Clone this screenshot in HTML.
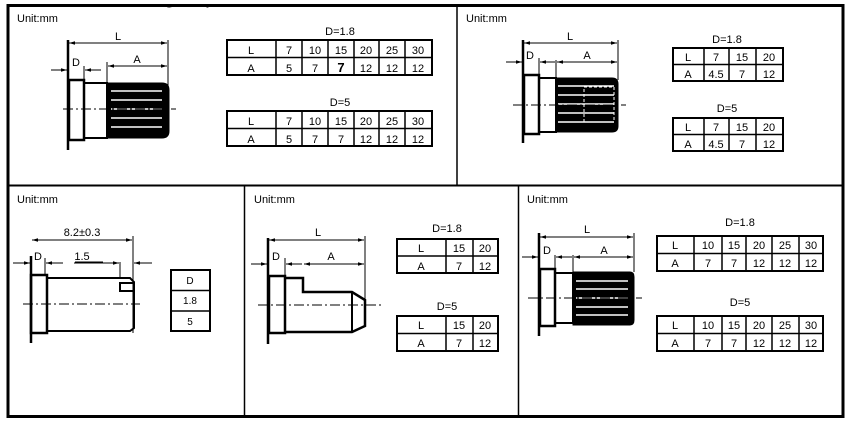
<!DOCTYPE html>
<html><head><meta charset="utf-8"><style>
html,body{margin:0;padding:0;background:#fff;}
svg{display:block;font-family:"Liberation Sans",sans-serif;}
text{fill:#000;}
</style></head><body>
<svg width="847" height="423" viewBox="0 0 847 423" xmlns="http://www.w3.org/2000/svg">
<defs>
<marker id="ar" viewBox="0 0 10 10" refX="10" refY="5" markerWidth="6" markerHeight="6" orient="auto-start-reverse"><path d="M0,2 L10,5 L0,8 z" fill="#000"/></marker>
</defs>
<text x="95" y="3" font-size="22">Drawings upon</text>
<rect x="0" y="0" width="847" height="5" fill="#fff"/>
<!-- frame -->
<rect x="8" y="5.5" width="835" height="411" fill="none" stroke="#000" stroke-width="3"/>
<line x1="8" y1="185.5" x2="843" y2="185.5" stroke="#000" stroke-width="2"/>
<line x1="457" y1="5" x2="457" y2="185" stroke="#000" stroke-width="1.5"/>
<line x1="244.5" y1="185" x2="244.5" y2="416" stroke="#000" stroke-width="1.5"/>
<line x1="518.5" y1="185" x2="518.5" y2="416" stroke="#000" stroke-width="1.5"/>
<g font-size="11">
<text x="17" y="22">Unit:mm</text>
<text x="466" y="22">Unit:mm</text>
<text x="17" y="203">Unit:mm</text>
<text x="254" y="203">Unit:mm</text>
<text x="527" y="203">Unit:mm</text>
</g>

<g stroke="#000" fill="none">
<!-- Panel 1 drawing -->
<line x1="68" y1="40" x2="68" y2="150" stroke-width="2.5"/>
<line x1="168" y1="40" x2="168" y2="90" stroke-width="1"/>
<line x1="84" y1="66" x2="84" y2="80" stroke-width="1"/>
<line x1="107" y1="62" x2="107" y2="83" stroke-width="1"/>
<line x1="69" y1="43" x2="167" y2="43" stroke-width="1" marker-start="url(#ar)" marker-end="url(#ar)"/>
<line x1="51" y1="70" x2="67" y2="70" stroke-width="1" marker-end="url(#ar)"/>
<line x1="101" y1="70" x2="85" y2="70" stroke-width="1" marker-end="url(#ar)"/>
<line x1="108" y1="66" x2="167" y2="66" stroke-width="1" marker-start="url(#ar)" marker-end="url(#ar)"/>
<rect x="69" y="80" width="15" height="60" stroke-width="2.5"/>
<rect x="84" y="83" width="23" height="55" stroke-width="2"/>
<path d="M107,83 H162 Q169,83 169,90 V131 Q169,138 162,138 H107 Z" fill="#000" stroke-width="1"/>
<g stroke="#fff" stroke-width="1.5"><line x1="111" y1="91" x2="162" y2="91"/><line x1="111" y1="100" x2="162" y2="100"/><line x1="111" y1="109" x2="162" y2="109"/><line x1="111" y1="118" x2="162" y2="118"/><line x1="111" y1="127" x2="162" y2="127"/></g>
<line x1="63" y1="109" x2="176" y2="109" stroke-width="1" stroke-dasharray="10,3,2,3"/>

<!-- Panel 2 drawing -->
<line x1="523" y1="40" x2="523" y2="143" stroke-width="2.5"/>
<line x1="618" y1="40" x2="618" y2="80" stroke-width="1"/>
<line x1="539" y1="58" x2="539" y2="78" stroke-width="1"/>
<line x1="556" y1="60" x2="556" y2="80" stroke-width="1"/>
<line x1="524" y1="43" x2="617" y2="43" stroke-width="1" marker-start="url(#ar)" marker-end="url(#ar)"/>
<line x1="506" y1="62" x2="522" y2="62" stroke-width="1" marker-end="url(#ar)"/>
<line x1="555" y1="62" x2="540" y2="62" stroke-width="1" marker-end="url(#ar)"/>
<line x1="557" y1="62" x2="617" y2="62" stroke-width="1" marker-start="url(#ar)" marker-end="url(#ar)"/>
<rect x="524" y="75" width="15" height="59" stroke-width="2.5"/>
<rect x="539" y="78" width="17" height="54" stroke-width="2"/>
<path d="M556,78 H612 Q618,78 618,84 V126 Q618,132 612,132 H556 Z" fill="#000" stroke-width="1"/>
<g stroke="#fff" stroke-width="1.5"><line x1="558" y1="86" x2="614" y2="86"/><line x1="558" y1="95" x2="614" y2="95"/><line x1="558" y1="104" x2="614" y2="104"/><line x1="558" y1="113" x2="614" y2="113"/><line x1="558" y1="122" x2="614" y2="122"/></g>
<rect x="584" y="87" width="30" height="35" stroke="#fff" stroke-width="1" stroke-dasharray="3,2"/>
<line x1="513" y1="105" x2="626" y2="105" stroke-width="1" stroke-dasharray="10,3,2,3"/>

<!-- Panel 3 drawing -->
<line x1="31" y1="256" x2="31" y2="343" stroke-width="2.5"/>
<line x1="133" y1="236" x2="133" y2="333" stroke-width="1"/>
<line x1="45" y1="258" x2="45" y2="275" stroke-width="1"/>
<line x1="120" y1="262" x2="120" y2="278" stroke-width="1"/>
<line x1="32" y1="240" x2="132" y2="240" stroke-width="1" marker-start="url(#ar)" marker-end="url(#ar)"/>
<line x1="13" y1="263" x2="30" y2="263" stroke-width="1" marker-end="url(#ar)"/>
<line x1="63" y1="263" x2="46" y2="263" stroke-width="1" marker-end="url(#ar)"/>
<line x1="74" y1="263" x2="119" y2="263" stroke-width="1" marker-end="url(#ar)"/>
<line x1="152" y1="263" x2="134" y2="263" stroke-width="1" marker-end="url(#ar)"/>
<rect x="31" y="275" width="16" height="58" stroke-width="2.5"/>
<path d="M47,278 H130 L134,282 V328 L130,331 H47" stroke-width="2"/>
<rect x="120" y="283" width="14" height="8" stroke-width="2"/>
<line x1="23" y1="304" x2="140" y2="304" stroke-width="1" stroke-dasharray="10,3,2,3"/>

<!-- Panel 4 drawing -->
<line x1="268" y1="238" x2="268" y2="344" stroke-width="2.5"/>
<line x1="365" y1="236" x2="365" y2="300" stroke-width="1"/>
<line x1="285" y1="258" x2="285" y2="275" stroke-width="1"/>
<line x1="269" y1="240" x2="364" y2="240" stroke-width="1" marker-start="url(#ar)" marker-end="url(#ar)"/>
<line x1="251" y1="264" x2="267" y2="264" stroke-width="1" marker-end="url(#ar)"/>
<line x1="302" y1="264" x2="286" y2="264" stroke-width="1" marker-end="url(#ar)"/>
<line x1="304" y1="264" x2="364" y2="264" stroke-width="1" marker-start="url(#ar)" marker-end="url(#ar)"/>
<rect x="269" y="276" width="16" height="57" stroke-width="2.5"/>
<path d="M285,278 H303 V292 H352 L365,300 V326 L352,332 H285" stroke-width="2.5"/>
<line x1="352" y1="292" x2="352" y2="332" stroke-width="2"/>
<line x1="258" y1="305" x2="382" y2="305" stroke-width="1" stroke-dasharray="10,3,2,3"/>

<!-- Panel 5 drawing -->
<line x1="539" y1="233" x2="539" y2="336" stroke-width="2.5"/>
<line x1="634" y1="233" x2="634" y2="272" stroke-width="1"/>
<line x1="555" y1="255" x2="555" y2="270" stroke-width="1"/>
<line x1="573" y1="255" x2="573" y2="273" stroke-width="1"/>
<line x1="540" y1="237" x2="633" y2="237" stroke-width="1" marker-start="url(#ar)" marker-end="url(#ar)"/>
<line x1="522" y1="257" x2="538" y2="257" stroke-width="1" marker-end="url(#ar)"/>
<line x1="572" y1="257" x2="556" y2="257" stroke-width="1" marker-end="url(#ar)"/>
<line x1="574" y1="257" x2="633" y2="257" stroke-width="1" marker-start="url(#ar)" marker-end="url(#ar)"/>
<rect x="540" y="269" width="15" height="57" stroke-width="2.5"/>
<rect x="555" y="273" width="18" height="50" stroke-width="2"/>
<path d="M573,272 H630 Q634,272 634,277 V320 Q634,325 630,325 H573 Z" fill="#000" stroke-width="1"/>
<g stroke="#fff" stroke-width="1.5"><line x1="576" y1="281" x2="628" y2="281"/><line x1="576" y1="289" x2="628" y2="289"/><line x1="576" y1="298" x2="628" y2="298"/><line x1="576" y1="307" x2="628" y2="307"/><line x1="576" y1="315" x2="628" y2="315"/></g>
<line x1="528" y1="298" x2="642" y2="298" stroke-width="1" stroke-dasharray="10,3,2,3"/>
</g>

<!-- dim labels -->
<g font-size="11" text-anchor="middle">
<text x="118" y="40">L</text><text x="76" y="66">D</text><text x="137" y="63">A</text>
<text x="570" y="40">L</text><text x="530" y="59">D</text><text x="587" y="59">A</text>
<text x="82" y="236">8.2±0.3</text><text x="38" y="260">D</text><text x="82" y="260">1.5</text>
<text x="318" y="236">L</text><text x="276" y="260">D</text><text x="331" y="260">A</text>
<text x="587" y="233">L</text><text x="547" y="254">D</text><text x="604" y="254">A</text>
</g>
<line x1="75" y1="262" x2="103" y2="262" stroke="#000" stroke-width="1"/>

<!-- tables -->
<g fill="none" stroke="#000" stroke-width="2">
<rect x="227" y="40" width="205" height="35"/><rect x="227" y="111" width="205" height="35"/>
<rect x="673" y="48" width="110" height="33"/><rect x="673" y="118" width="110" height="33"/>
<rect x="171" y="270" width="39" height="61"/>
<rect x="397" y="239" width="101" height="34"/><rect x="397" y="316" width="101" height="35"/>
<rect x="657" y="236" width="166" height="35"/><rect x="657" y="316" width="166" height="35"/>
</g>
<g stroke="#000" stroke-width="1.5">
<path d="M227,57.5H432M276,40V75M302,40V75M328,40V75M354,40V75M379,40V75M405,40V75"/>
<path d="M227,128.5H432M276,111V146M302,111V146M328,111V146M354,111V146M379,111V146M405,111V146"/>
<path d="M673,64.5H783M704,48V81M729,48V81M756,48V81"/>
<path d="M673,134.5H783M704,118V151M729,118V151M756,118V151"/>
<path d="M171,290.5H210M171,311H210"/>
<path d="M397,256H498M446,239V273M473,239V273"/>
<path d="M397,333.5H498M446,316V351M473,316V351"/>
<path d="M657,253.5H823M694,236V271M722,236V271M746,236V271M772,236V271M799,236V271"/>
<path d="M657,333.5H823M694,316V351M722,316V351M746,316V351M772,316V351M799,316V351"/>
</g>
<g font-size="11" text-anchor="middle">
<text x="340" y="35">D=1.8</text><text x="340" y="106">D=5</text>
<text x="251" y="54">L</text><text x="289" y="54">7</text><text x="315" y="54">10</text><text x="341" y="54">15</text><text x="366" y="54">20</text><text x="392" y="54">25</text><text x="418" y="54">30</text>
<text x="251" y="72">A</text><text x="289" y="72">5</text><text x="315" y="72">7</text><text x="341" y="72" font-weight="bold" font-size="13">7</text><text x="366" y="72">12</text><text x="392" y="72">12</text><text x="418" y="72">12</text>
<text x="251" y="125">L</text><text x="289" y="125">7</text><text x="315" y="125">10</text><text x="341" y="125">15</text><text x="366" y="125">20</text><text x="392" y="125">25</text><text x="418" y="125">30</text>
<text x="251" y="143">A</text><text x="289" y="143">5</text><text x="315" y="143">7</text><text x="341" y="143">7</text><text x="366" y="143">12</text><text x="392" y="143">12</text><text x="418" y="143">12</text>

<text x="727" y="43">D=1.8</text><text x="727" y="112">D=5</text>
<text x="688" y="61">L</text><text x="716" y="61">7</text><text x="742" y="61">15</text><text x="769" y="61">20</text>
<text x="688" y="78">A</text><text x="716" y="78">4.5</text><text x="742" y="78">7</text><text x="769" y="78">12</text>
<text x="688" y="131">L</text><text x="716" y="131">7</text><text x="742" y="131">15</text><text x="769" y="131">20</text>
<text x="688" y="148">A</text><text x="716" y="148">4.5</text><text x="742" y="148">7</text><text x="769" y="148">12</text>

<g font-size="10"><text x="190" y="284">D</text><text x="190" y="304">1.8</text><text x="190" y="325">5</text></g>

<text x="447" y="232">D=1.8</text><text x="447" y="310">D=5</text>
<text x="421" y="252">L</text><text x="459" y="252">15</text><text x="485" y="252">20</text>
<text x="421" y="270">A</text><text x="459" y="270">7</text><text x="485" y="270">12</text>
<text x="421" y="329">L</text><text x="459" y="329">15</text><text x="485" y="329">20</text>
<text x="421" y="347">A</text><text x="459" y="347">7</text><text x="485" y="347">12</text>

<text x="740" y="226">D=1.8</text><text x="740" y="306">D=5</text>
<text x="675" y="249">L</text><text x="708" y="249">10</text><text x="734" y="249">15</text><text x="759" y="249">20</text><text x="785" y="249">25</text><text x="811" y="249">30</text>
<text x="675" y="267">A</text><text x="708" y="267">7</text><text x="734" y="267">7</text><text x="759" y="267">12</text><text x="785" y="267">12</text><text x="811" y="267">12</text>
<text x="675" y="329">L</text><text x="708" y="329">10</text><text x="734" y="329">15</text><text x="759" y="329">20</text><text x="785" y="329">25</text><text x="811" y="329">30</text>
<text x="675" y="347">A</text><text x="708" y="347">7</text><text x="734" y="347">7</text><text x="759" y="347">12</text><text x="785" y="347">12</text><text x="811" y="347">12</text>
</g>
</svg>
</body></html>
